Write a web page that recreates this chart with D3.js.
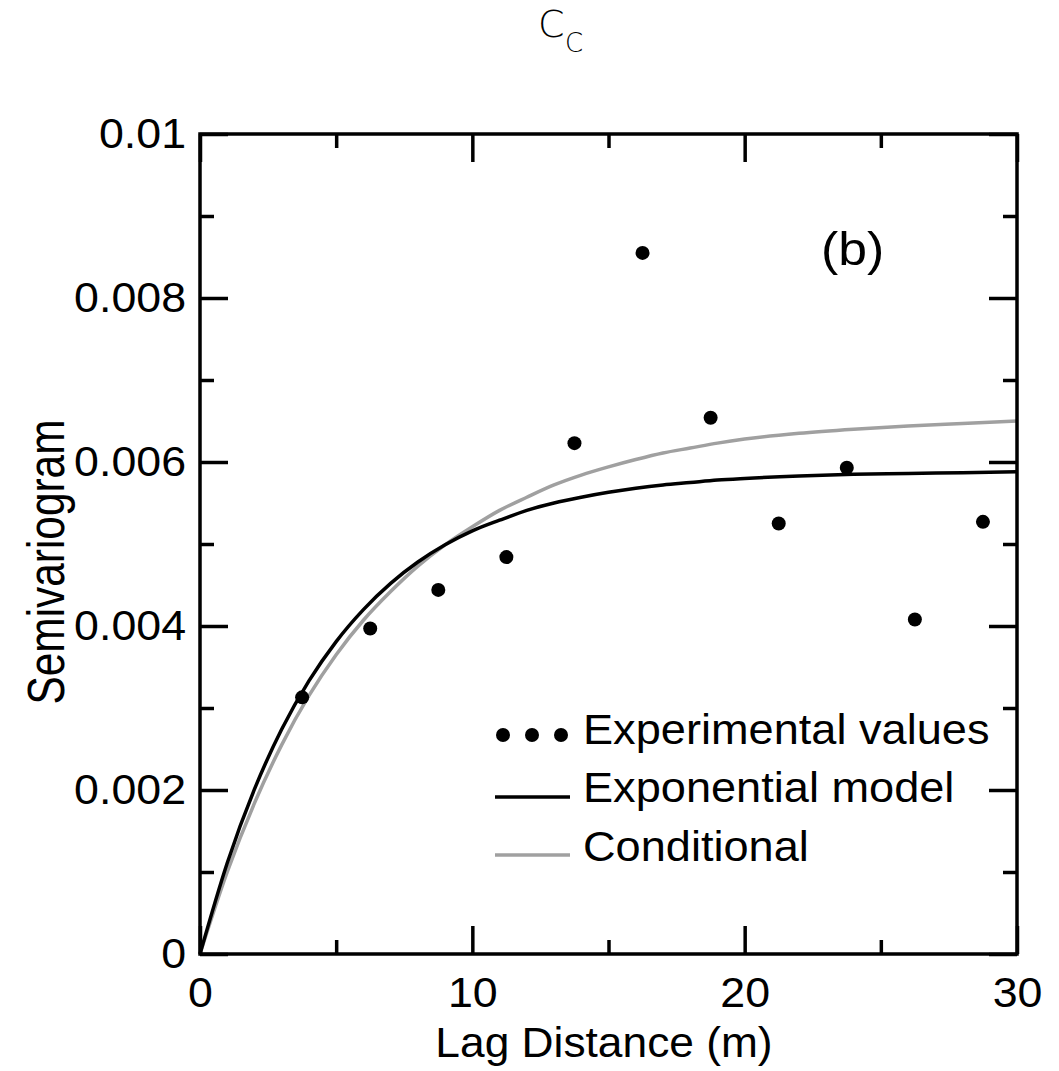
<!DOCTYPE html>
<html>
<head>
<meta charset="utf-8">
<script src="https://cdn.jsdelivr.net/npm/d3@7"></script>
<style>
  html, body { margin: 0; padding: 0; background: #fff; }
  svg { display: block; }
</style>
</head>
<body>
<svg id="chart" width="1059" height="1071"></svg>
<script>
// ---- data ----
const expLag   = [3.75, 6.25, 8.75, 11.25, 13.75, 16.25, 18.75, 21.25, 23.75, 26.25, 28.75];
const expGamma = [0.00313, 0.00397, 0.00444, 0.00484, 0.00623, 0.00855, 0.00654, 0.00525, 0.00593, 0.00408, 0.00527];

const curveLag   = [0, 1, 2, 3, 4, 5, 6, 7, 8, 9, 10, 11, 12, 13, 14, 15, 16, 17, 18, 19, 20, 22, 24, 26, 28, 30];
const modelGamma = [0, 0.00111, 0.00201, 0.00274, 0.00333, 0.00381, 0.00420, 0.00452, 0.00478, 0.00499, 0.00516,
                    0.00529, 0.00541, 0.00550, 0.00557, 0.00563, 0.00568, 0.00572, 0.00575, 0.00578, 0.00580,
                    0.00583, 0.00585, 0.00586, 0.00587, 0.00588];
const condGamma  = [0, 0.00100, 0.00184, 0.00255, 0.00315, 0.00365, 0.00407, 0.00442, 0.00473, 0.00499, 0.00521,
                    0.00541, 0.00557, 0.00572, 0.00584, 0.00594, 0.00603, 0.00611, 0.00617, 0.00623, 0.00628,
                    0.00635, 0.00640, 0.00644, 0.00647, 0.00650];

const xMajorTicks = [0, 10, 20, 30];
const xMinorTicks = [5, 15, 25];
const yMajorTicks = [0, 0.002, 0.004, 0.006, 0.008, 0.01];
const yTickLabels = ["0", "0.002", "0.004", "0.006", "0.008", "0.01"];
const yMinorTicks = [0.001, 0.003, 0.005, 0.007, 0.009];

const legendLabels = ["Experimental values", "Exponential model", "Conditional"];

// ---- layout ----
const svg = d3.select("#chart");
const L = 200, R = 1017, T = 134, B = 954;
const x = d3.scaleLinear().domain([0, 30]).range([L, R]);
const y = d3.scaleLinear().domain([0, 0.01]).range([B, T]);
const FONT = "'Liberation Sans', Arial, Helvetica, sans-serif";
const FS = 42, SX = 1.065;
const GRAY = "#a0a0a0";

// title C_C
const title = svg.append("text")
  .attr("x", 538).attr("y", 37)
  .attr("font-family", "'DejaVu Sans', sans-serif")
  .attr("font-weight", 200)
  .attr("font-size", 38)
  .attr("fill", "#000");
title.append("tspan").text("C");
title.append("tspan").attr("x", 565).attr("y", 52).attr("font-size", 26).text("C");

// curves
const line = d3.line().x(d => x(d[0])).y(d => y(d[1])).curve(d3.curveMonotoneX);
svg.append("path")
  .datum(curveLag.map((h, i) => [h, condGamma[i]]))
  .attr("d", line).attr("fill", "none").attr("stroke", GRAY).attr("stroke-width", 3.5);
svg.append("path")
  .datum(curveLag.map((h, i) => [h, modelGamma[i]]))
  .attr("d", line).attr("fill", "none").attr("stroke", "#000").attr("stroke-width", 3.5);

// points
svg.append("g").selectAll("circle")
  .data(expLag.map((h, i) => [h, expGamma[i]]))
  .join("circle")
  .attr("cx", d => x(d[0])).attr("cy", d => y(d[1])).attr("r", 7).attr("fill", "#000");

// axes helper
function styleAxis(g) {
  g.select(".domain").remove();
  g.selectAll(".tick line").attr("stroke", "#000").attr("stroke-width", 3.5);
  g.selectAll(".tick text").attr("font-family", FONT).attr("font-size", FS).attr("fill", "#000");
}

// bottom
svg.append("g").attr("transform", `translate(0,${B})`)
  .call(d3.axisBottom(x).tickValues(xMajorTicks).tickSizeInner(-28).tickSizeOuter(0).tickPadding(23).tickFormat(d3.format("d")))
  .call(styleAxis)
  .call(g => g.selectAll(".tick text").attr("transform", `scale(${SX},1)`));
svg.append("g").attr("transform", `translate(0,${B})`)
  .call(d3.axisBottom(x).tickValues(xMinorTicks).tickSizeInner(-14).tickSizeOuter(0).tickFormat(""))
  .call(styleAxis);
// top
svg.append("g").attr("transform", `translate(0,${T})`)
  .call(d3.axisTop(x).tickValues(xMajorTicks).tickSizeInner(-28).tickSizeOuter(0).tickFormat(""))
  .call(styleAxis);
svg.append("g").attr("transform", `translate(0,${T})`)
  .call(d3.axisTop(x).tickValues(xMinorTicks).tickSizeInner(-14).tickSizeOuter(0).tickFormat(""))
  .call(styleAxis);
// left
svg.append("g").attr("transform", `translate(${L},0)`)
  .call(d3.axisLeft(y).tickValues(yMajorTicks).tickSizeInner(-28).tickSizeOuter(0).tickPadding(0)
    .tickFormat((d, i) => yTickLabels[i]))
  .call(styleAxis)
  .call(g => g.selectAll(".tick text").attr("x", 0).attr("transform", `translate(-14,0) scale(${SX},1)`));
svg.append("g").attr("transform", `translate(${L},0)`)
  .call(d3.axisLeft(y).tickValues(yMinorTicks).tickSizeInner(-14).tickSizeOuter(0).tickFormat(""))
  .call(styleAxis);
// right
svg.append("g").attr("transform", `translate(${R},0)`)
  .call(d3.axisRight(y).tickValues(yMajorTicks).tickSizeInner(-28).tickSizeOuter(0).tickFormat(""))
  .call(styleAxis);
svg.append("g").attr("transform", `translate(${R},0)`)
  .call(d3.axisRight(y).tickValues(yMinorTicks).tickSizeInner(-14).tickSizeOuter(0).tickFormat(""))
  .call(styleAxis);

// frame
svg.append("rect")
  .attr("x", L).attr("y", T).attr("width", R - L).attr("height", B - T)
  .attr("fill", "none").attr("stroke", "#000").attr("stroke-width", 3.5);

// axis titles
svg.append("text")
  .attr("transform", `translate(604,1057) scale(1.055,1)`)
  .attr("text-anchor", "middle")
  .attr("font-family", FONT).attr("font-size", FS).attr("fill", "#000")
  .text("Lag Distance (m)");
svg.append("text")
  .attr("transform", `translate(64,562) rotate(-90) scale(0.815,1)`)
  .attr("text-anchor", "middle")
  .attr("font-family", FONT).attr("font-size", 52).attr("fill", "#000")
  .text("Semivariogram");

// panel label
svg.append("text")
  .attr("transform", `translate(821,265) scale(1.1,1)`)
  .attr("font-family", FONT).attr("font-size", 47).attr("fill", "#000")
  .text("(b)");

// legend
const legDotY = 735, legLineY = [797, 855], legTextY = [744, 802, 861];
const lg = svg.append("g");
[503, 532, 561].forEach(cx => lg.append("circle").attr("cx", cx).attr("cy", legDotY).attr("r", 7).attr("fill", "#000"));
lg.append("line").attr("x1", 495).attr("x2", 570).attr("y1", legLineY[0]).attr("y2", legLineY[0])
  .attr("stroke", "#000").attr("stroke-width", 3.5);
lg.append("line").attr("x1", 495).attr("x2", 570).attr("y1", legLineY[1]).attr("y2", legLineY[1])
  .attr("stroke", GRAY).attr("stroke-width", 3.5);
legendLabels.forEach((t, i) => {
  lg.append("text")
    .attr("transform", `translate(583,${legTextY[i]}) scale(1.075,1)`)
    .attr("font-family", FONT).attr("font-size", FS).attr("fill", "#000")
    .text(t);
});
</script>
</body>
</html>
